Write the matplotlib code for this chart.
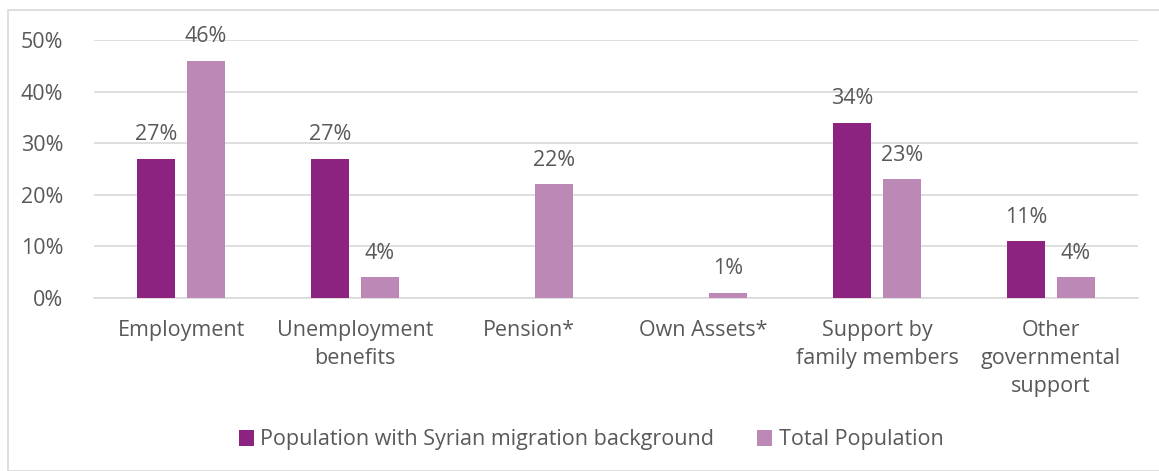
import matplotlib.pyplot as plt
import numpy as np
from matplotlib.patches import Rectangle

plt.rcParams['font.family'] = ['Open Sans', 'DejaVu Sans']

categories = ['Employment', 'Unemployment\nbenefits', 'Pension*', 'Own Assets*',
              'Support by\nfamily members', 'Other\ngovernmental\nsupport']
syrian = [27, 27, None, None, 34, 11]
total = [46, 4, 22, 1, 23, 4]
series_names = ['Population with Syrian migration background', 'Total Population']

dark = '#8C2380'
light = '#BC88B6'
txt = '#595959'
fs = 15.5

fig = plt.figure(figsize=(11.59, 4.71), dpi=100)
fig.patches.append(Rectangle((8 / 1159, 0), 1, 1 - 10 / 471, transform=fig.transFigure,
                             fill=False, edgecolor='#D9D9D9', linewidth=1.2))
ax = fig.add_axes([94 / 1159, 1 - 298 / 471, (1138 - 94) / 1159, 258 / 471])

x = np.arange(len(categories))
w = 0.218
off = 0.144
s_vals = [v / 100 if v is not None else 0 for v in syrian]
t_vals = [v / 100 for v in total]
b1 = ax.bar(x - off, s_vals, w, color=dark, label=series_names[0], zorder=3)
b2 = ax.bar(x + off, t_vals, w, color=light, label=series_names[1], zorder=3)

for xi, v in zip(x, syrian):
    if v is not None:
        ax.text(xi - off, v / 100 + 0.026, f'{v}%', ha='center', va='bottom',
                fontsize=fs, color=txt, clip_on=False)
for xi, v in zip(x, total):
    ax.text(xi + off, v / 100 + 0.026, f'{v}%', ha='center', va='bottom',
            fontsize=fs, color=txt, clip_on=False)

ax.set_xlim(-0.5, len(categories) - 0.5)
ax.set_ylim(0, 0.5)
ax.set_yticks(np.arange(0, 0.51, 0.1))
ax.set_yticklabels([f'{int(round(t * 100))}%' for t in np.arange(0, 0.51, 0.1)])
ax.set_xticks(x)
ax.set_xticklabels(categories, linespacing=1.42)
ax.tick_params(axis='both', length=0, labelsize=fs, colors=txt)
ax.tick_params(axis='y', pad=22)
ax.tick_params(axis='x', pad=16)
ax.grid(axis='y', color='#D9D9D9', linewidth=1.2, zorder=0)
for s in ['top', 'right', 'left']:
    ax.spines[s].set_visible(False)
ax.spines['bottom'].set_color('#D9D9D9')
ax.spines['bottom'].set_linewidth(1.2)

fig.legend(handles=[b1, b2], loc='center', bbox_to_anchor=(0.51, 1 - 440 / 471),
           ncol=2, frameon=False, fontsize=fs, labelcolor=txt,
           handlelength=0.7, handleheight=0.7, handletextpad=0.3, columnspacing=2.0)

fig.savefig('out.png', dpi=100)
